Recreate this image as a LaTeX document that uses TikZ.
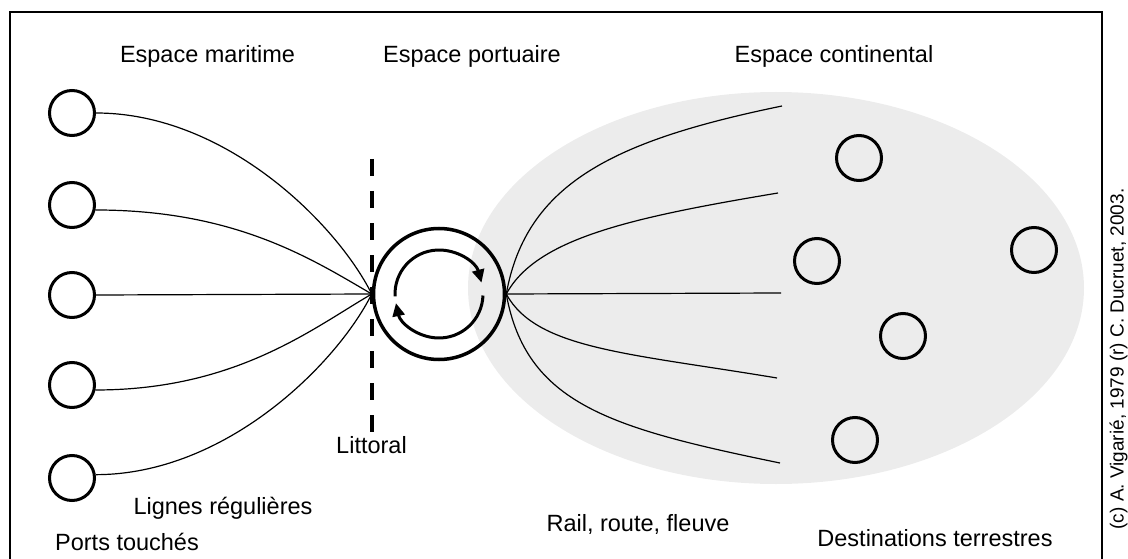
\documentclass[tikz,border=0pt]{standalone}
\usepackage{fontspec}
\setmainfont{Liberation Sans}
\usetikzlibrary{arrows.meta}
\definecolor{ellgray}{HTML}{ECECEC}
\tikzset{
  smallport/.style={draw, circle, line width=3pt, minimum size=45pt, inner sep=0pt},
  mainport/.style={draw, circle, line width=3.5pt, minimum size=131pt, inner sep=0pt},
  link/.style={line width=1.2pt},
  lbl/.style={font=\fontsize{23.5}{28}\selectfont, inner sep=0pt, anchor=base},
  credit/.style={font=\fontsize{19}{23}\selectfont, inner sep=0pt, anchor=base, rotate=90},
  rot/.style={line width=3pt, -{Triangle[length=13pt,width=12pt]}},
  frame/.style={line width=2pt},
  coast/.style={line width=4pt, dash pattern=on 17pt off 15pt}
}
\begin{document}
\begin{tikzpicture}[x=1pt, y=-1pt]
\useasboundingbox (0,0) rectangle (1128,559);
\clip (0,0) rectangle (1128,559);
% frame
\draw[frame] (10,570) -- (10,12) -- (1102,12) -- (1102,570);
% continental ellipse
\fill[ellgray] (776,288) ellipse [x radius=308, y radius=196];
% dashed coastline
\draw[coast] (371.5,159) -- (371.5,440);
% nodes
\node[mainport] (P) at (439,294) {};
\node[smallport] (m1) at (72,113) {};
\node[smallport] (m2) at (72,205) {};
\node[smallport] (m3) at (72,295) {};
\node[smallport] (m4) at (72,385) {};
\node[smallport] (m5) at (72,478) {};
\node[smallport] (d1) at (859,158) {};
\node[smallport] (d2) at (817,261) {};
\node[smallport] (d3) at (1034,250) {};
\node[smallport] (d4) at (903,336) {};
\node[smallport] (d5) at (855,440) {};
\coordinate (r1) at (782,106);
\coordinate (r2) at (778,193);
\coordinate (r3) at (781,293);
\coordinate (r4) at (777,378);
\coordinate (r5) at (780,463);
% maritime lines
\draw[link] (m1.east) .. controls +(130,0) and +(-35,-70) .. (P.west);
\draw[link] (m2.-12) .. controls +(140,0) and +(-60,-35) .. (P.west);
\draw[link] (m3.east) -- (P.west);
\draw[link] (m4.-12) .. controls +(140,0) and +(-60,35) .. (P.west);
\draw[link] (m5.8) .. controls +(130,0) and +(-35,70) .. (P.west);
% continental lines
\draw[link] (P.east) .. controls +(20,-110) and +(-170,35) .. (r1);
\draw[link] (P.east) .. controls +(30,-55) and +(-150,25) .. (r2);
\draw[link] (P.east) -- (r3);
\draw[link] (P.east) .. controls +(30,55) and +(-150,-25) .. (r4);
\draw[link] (P.east) .. controls +(20,110) and +(-170,-35) .. (r5);
% rotation arrows
\draw[rot] ([shift={(-183:44)}]P.center) arc[start angle=-183, end angle=-15, radius=44];
\draw[rot] ([shift={(2:44)}]P.center) arc[start angle=2, end angle=168, radius=44];
% labels
\node[lbl] (t1) at (207.5,63) {Espace maritime};
\node[lbl] (t2) at (472,63) {Espace portuaire};
\node[lbl] (t3) at (834,63) {Espace continental};
\node[lbl] (t4) at (371.5,453) {Littoral};
\node[lbl] (t5) at (223,514) {Lignes régulières};
\node[lbl] (t6) at (127,550) {Ports touchés};
\node[lbl] (t7) at (638,531) {Rail, route, fleuve};
\node[lbl] (t8) at (935,546) {Destinations terrestres};
\node[credit] (t9) at (1123.5,359) {(c) A. Vigarié, 1979 (r) C. Ducruet, 2003.};
\end{tikzpicture}
\end{document}
